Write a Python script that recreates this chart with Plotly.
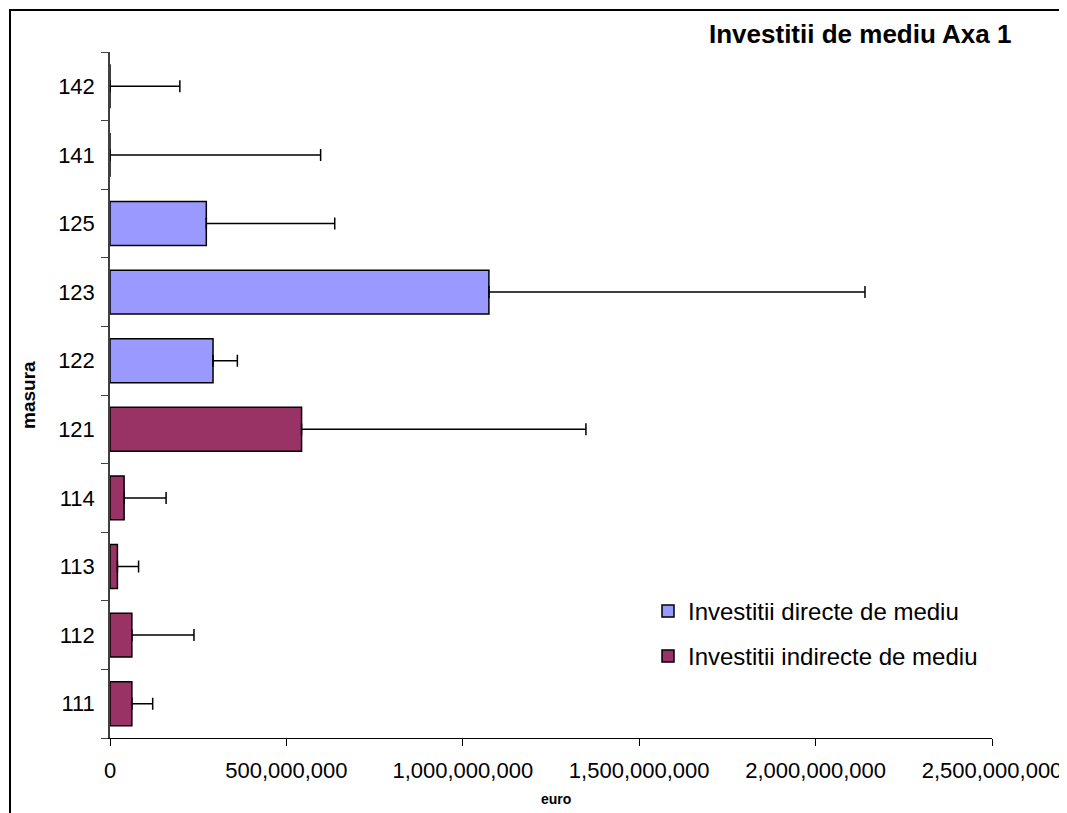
import plotly.graph_objects as go

categories = ['111', '112', '113', '114', '121', '122', '123', '125', '141', '142']

direct_cats = ['122', '123', '125', '141', '142']
direct_vals = [292e6, 1074e6, 273e6, 0, 0]
direct_err = [69e6, 1066e6, 364e6, 597e6, 198e6]

indirect_cats = ['111', '112', '113', '114', '121']
indirect_vals = [62e6, 62e6, 21e6, 40e6, 543e6]
indirect_err = [59e6, 176e6, 60e6, 119e6, 806e6]

x_ticks = [0, 500e6, 1000e6, 1500e6, 2000e6, 2500e6]

FONT = "Arial, Liberation Sans, sans-serif"

fig = go.Figure()
fig.add_trace(go.Bar(
    y=direct_cats, x=direct_vals, orientation='h',
    name='Investitii directe de mediu', legend='legend',
    marker=dict(color='#9999FF', line=dict(color='black', width=1.5)),
    error_x=dict(type='data', array=direct_err, arrayminus=[0] * len(direct_err),
                 symmetric=False, color='black', thickness=1.5, width=6),
))
fig.add_trace(go.Bar(
    y=indirect_cats, x=indirect_vals, orientation='h',
    name='Investitii indirecte de mediu', legend='legend2',
    marker=dict(color='#993366', line=dict(color='black', width=1.5)),
    error_x=dict(type='data', array=indirect_err, arrayminus=[0] * len(indirect_err),
                 symmetric=False, color='black', thickness=1.5, width=6),
))

# the page body adds an 8px offset; lay out in page pixels and compensate
OFF = 8
W, H = 1067 - OFF, 813 - OFF
PLOT_L, PLOT_R, PLOT_T, PLOT_B = 110, 992, 52, 738  # page pixels
L = PLOT_L - OFF
T = PLOT_T - OFF
R = W - (PLOT_R - OFF)
B = H - (PLOT_B - OFF)
pw, ph = W - L - R, H - T - B


def px_x(p):
    return (p - OFF - L) / pw


def px_y(p):
    return (H - B - (p - OFF)) / ph


legend_style = dict(xanchor='left', yanchor='top',
                    font=dict(family=FONT, size=24, color='black'),
                    bgcolor='rgba(0,0,0,0)')

fig.update_layout(
    width=W, height=H,
    margin=dict(l=L, r=R, t=T, b=B, autoexpand=False),
    paper_bgcolor='white', plot_bgcolor='white',
    barmode='overlay', bargap=0.36,
    font=dict(family=FONT, size=22, color='black'),
    showlegend=True,
    legend=dict(x=px_x(648), y=px_y(589), **legend_style),
    legend2=dict(x=px_x(648), y=px_y(634), **legend_style),
    xaxis=dict(range=[0, 2500e6], tickvals=x_ticks, tickformat=',d',
               automargin=False,
               showgrid=False, zeroline=False, showline=True, linecolor='black',
               linewidth=1, ticks='outside', ticklen=7, tickcolor='black',
               tickfont=dict(size=22), ticklabelstandoff=6),
    yaxis=dict(type='category', categoryorder='array', categoryarray=categories,
               range=[-0.5, len(categories) - 0.5], automargin=False,
               showgrid=False, zeroline=False, showline=True, linecolor='#404040',
               linewidth=1.5, ticks='outside', ticklen=7, tickcolor='#404040',
               tickson='boundaries', tickfont=dict(size=22), ticklabelstandoff=9),
    annotations=[
        dict(text='<b>Investitii de mediu Axa 1</b>', xref='paper', yref='paper',
             x=px_x(1013), y=px_y(34), xanchor='right', yanchor='middle',
             showarrow=False, font=dict(family=FONT, size=26, color='black')),
        dict(text='<b>masura</b>', xref='paper', yref='paper',
             x=px_x(28), y=px_y(395), xanchor='center', yanchor='middle',
             textangle=-90, showarrow=False,
             font=dict(family=FONT, size=19, color='black')),
        dict(text='<b>euro</b>', xref='paper', yref='paper',
             x=px_x(556), y=px_y(799), xanchor='center', yanchor='middle',
             showarrow=False, font=dict(family=FONT, size=14, color='black')),
    ],
    shapes=[
        dict(type='rect', xref='paper', yref='paper',
             x0=px_x(10), x1=px_x(1060), y0=px_y(830), y1=px_y(10),
             line=dict(color='black', width=2), fillcolor='rgba(0,0,0,0)',
             layer='above'),
    ],
)

fig.write_html("out.html")
